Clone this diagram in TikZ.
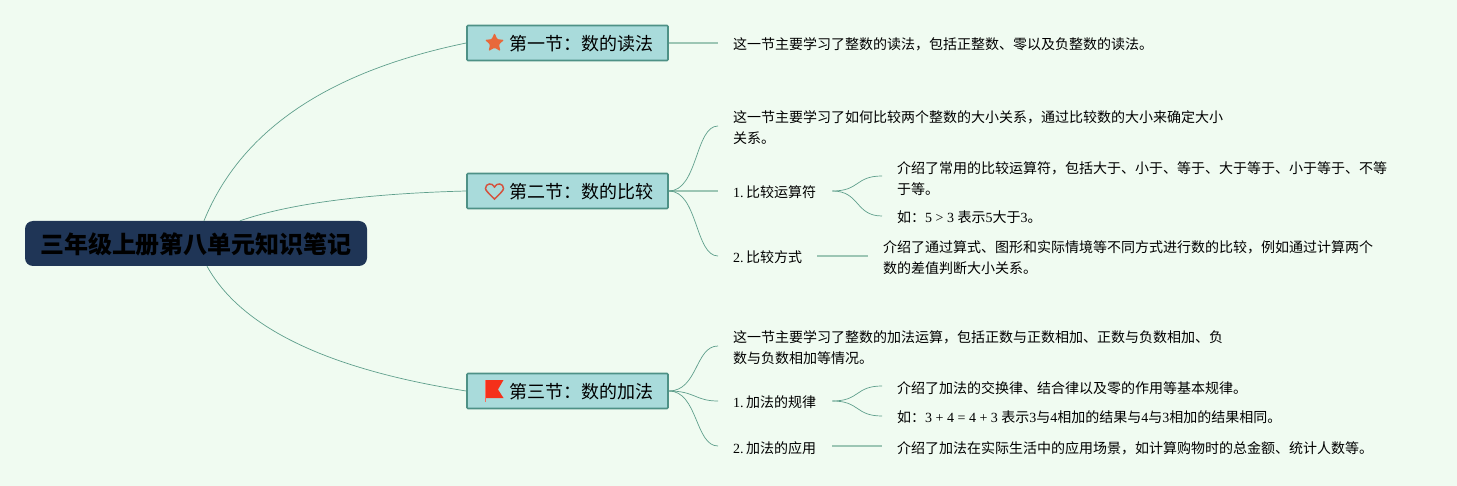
\documentclass[tikz,border=0pt]{standalone}
\usepackage{fontspec}
\setmainfont{Liberation Serif}
\newfontfamily\cjk{Noto Sans CJK SC}
\usepackage{xcolor}
\usetikzlibrary{shapes.geometric, calc}
\definecolor{paper}{HTML}{F0FBF1}
\definecolor{navy}{HTML}{1F3556}
\definecolor{teal}{HTML}{A9DBDB}
\definecolor{tealdark}{HTML}{4E9186}
\definecolor{wire}{HTML}{5F9F8C}
\definecolor{wirepale}{HTML}{9CC6B4}
\definecolor{staricon}{HTML}{E8683A}
\definecolor{hearticon}{HTML}{D4533F}
\definecolor{flagicon}{HTML}{F5301A}
\newcommand{\lat}[1]{{\rmfamily #1}}
\newcommand{\num}[1]{{\rmfamily #1.}\hspace{2.5pt}}
\newcommand{\dou}{\char"FF0C\relax}
\newcommand{\mao}{\char"FF1A\relax}
\newcommand{\sect}[1]{\hspace*{27pt}\raisebox{-7.5pt}[0pt][0pt]{#1}}
\tikzset{
  rootbox/.style={rectangle, rounded corners=8pt, fill=navy, minimum width=342pt, minimum height=45pt,
                  inner sep=0pt, font=\fontsize{24}{28}\selectfont\cjk\bfseries},
  sectbox/.style={rectangle, rounded corners=1pt, draw=tealdark, line width=1.6pt, fill=teal, minimum width=201pt,
                  minimum height=35pt, inner sep=0pt, font=\fontsize{18}{22}\selectfont\cjk},
  leaf/.style={rectangle, anchor=west, inner xsep=15pt, inner ysep=0pt, align=left, font=\fontsize{14}{21}\selectfont\cjk},
  curve/.style={draw=wire, line width=0.7pt},
  pale/.style={draw=wirepale, line width=1.4pt},
}
\begin{document}
\begin{tikzpicture}[x=1pt, y=-1pt]
  \fill[paper] (0,0) rectangle (1457,486);
  \useasboundingbox (0,0) rectangle (1457,486);

  \node[rootbox] (root) at (196,243.5) {\raisebox{-10pt}[0pt][0pt]{三年级上册第八单元知识笔记}};
  \node[sectbox] (sect1) at (567.5,43)  {\sect{第一节\mao 数的读法}};
  \node[sectbox] (sect2) at (567.5,191) {\sect{第二节\mao 数的比较}};
  \node[sectbox] (sect3) at (567.5,391) {\sect{第三节\mao 数的加法}};

  % section one
  \node[leaf] (read) at (718,44.5) {这一节主要学习了整数的读法\dou 包括正整数、零以及负整数的读法。};

  % section two
  \node[leaf] (cmpintro) at (718,127.5) {这一节主要学习了如何比较两个整数的大小关系\dou 通过比较数的大小来确定大小\\关系。};
  \node[leaf] (cmpop)    at (718,192.5) {\num{1}比较运算符};
  \node[leaf] (cmpway)   at (718,257.5) {\num{2}比较方式};
  \node[leaf] (opnote)   at (882,178.5) {介绍了常用的比较运算符\dou 包括大于、小于、等于、大于等于、小于等于、不等\\于等。};
  \node[leaf] (opeg)     at (882,217.5) {如\mao\lat{5 > 3 }表示\lat{5}大于\lat{3}。};
  \node[leaf] (waynote)  at (868,257.5) {介绍了通过算式、图形和实际情境等不同方式进行数的比较\dou 例如通过计算两个\\数的差值判断大小关系。};

  % section three
  \node[leaf] (addintro) at (718,348) {这一节主要学习了整数的加法运算\dou 包括正数与正数相加、正数与负数相加、负\\数与负数相加等情况。};
  \node[leaf] (addrule)  at (718,402.5) {\num{1}加法的规律};
  \node[leaf] (adduse)   at (718,448) {\num{2}加法的应用};
  \node[leaf] (rulenote) at (882,388) {介绍了加法的交换律、结合律以及零的作用等基本规律。};
  \node[leaf] (ruleeg)   at (882,417.5) {如\mao\lat{3 + 4 = 4 + 3 }表示\lat{3}与\lat{4}相加的结果与\lat{4}与\lat{3}相加的结果相同。};
  \node[leaf] (usenote)  at (882,448) {介绍了加法在实际生活中的应用场景\dou 如计算购物时的总金额、统计人数等。};

  % icons
  \node[star, star points=5, star point ratio=2.1, fill=staricon, inner sep=0pt, minimum size=20pt,
        rounded corners=1pt] (stariconnode) at (494.5,43) {};
  \draw[draw=hearticon, line width=1.5pt] (494.5,199)
     .. controls (488,193) and (485.5,190) .. (485.5,188.5)
     .. controls (485.5,183) and (492.5,182.5) .. (494.5,187)
     .. controls (496.5,182.5) and (503.5,183) .. (503.5,188.5)
     .. controls (503.5,190) and (501,193) .. (494.5,199) -- cycle;
  \fill[flagicon] (486,380) -- (503.5,380) -- (498,389.5) -- (503.5,398) -- (486,398) -- cycle;
  \draw[flagicon!70!white, line width=1pt] (485.5,380) -- (485.5,402);

  % connectors from the root
  \coordinate (rootup) at ($(root.north)+(8,0)$);
  \coordinate (rootmid) at ($(root.north)+(44,0)$);
  \coordinate (rootdown) at ($(root.south)+(11,0)$);
  \draw[curve] (rootup) .. controls (245,120) and (345,68) .. (sect1.west);
  \draw[curve] (rootmid) .. controls (300,200) and (390,193) .. (sect2.west);
  \draw[curve] (rootdown) .. controls (245,335) and (345,372) .. (sect3.west);

  % connectors to the leaves
  \draw[pale] (sect1.east) -- ([yshift=1.5pt]read.west);
  \draw[pale] (sect2.east) -- ([yshift=1.5pt]cmpop.west);
  \draw[curve] (sect2.east) .. controls (698,191) and (695,126) .. ([yshift=1.5pt]cmpintro.west);
  \draw[curve] (sect2.east) .. controls (698,191) and (695,256) .. ([yshift=1.5pt]cmpway.west);
  \draw[curve] (sect3.east) .. controls (698,391) and (695,346) .. ([yshift=2pt]addintro.west);
  \draw[curve] (sect3.east) .. controls (695,391) and (695,401) .. ([yshift=1.5pt]addrule.west);
  \draw[curve] (sect3.east) .. controls (698,391) and (695,446) .. ([yshift=2pt]adduse.west);

  \draw[curve] ([shift={(1pt,1.5pt)}]cmpop.east) .. controls (860,191) and (855,176) .. ([yshift=2.5pt]opnote.west);
  \draw[curve] ([shift={(1pt,1.5pt)}]cmpop.east) .. controls (860,191) and (855,216) .. ([yshift=1.5pt]opeg.west);
  \draw[pale] ([yshift=1.5pt]cmpway.east) -- ([yshift=1.5pt]waynote.west);
  \draw[curve] ([shift={(1pt,1.5pt)}]addrule.east) .. controls (860,401) and (855,386) .. ([yshift=2pt]rulenote.west);
  \draw[curve] ([shift={(1pt,1.5pt)}]addrule.east) .. controls (860,401) and (855,416) .. ([yshift=1.5pt]ruleeg.west);
  \draw[pale] ([shift={(1pt,2pt)}]adduse.east) -- ([yshift=2pt]usenote.west);
\end{tikzpicture}
\end{document}
